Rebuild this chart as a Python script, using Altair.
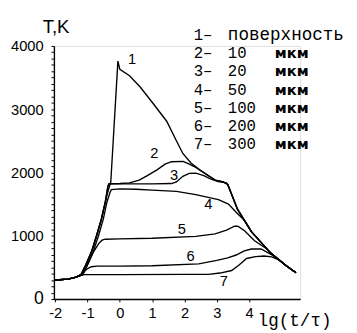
import altair as alt
import pandas as pd

# ---- curve data (lg(t/tau), T in K) ----
c1_x = [-2.0, -1.6, -1.35, -1.2, -1.05, -0.87, -0.72, -0.57, -0.45, -0.38, -0.28, -0.06, 0.0, 0.3, 0.63, 1.0, 1.45, 1.75, 1.95, 2.2, 2.5, 2.95, 3.2, 3.34, 3.64, 4.07, 4.67, 5.15, 5.45]
c1_y = [300, 315, 345, 385, 540, 755, 1000, 1265, 1530, 1680, 1850, 3760, 3630, 3530, 3350, 3110, 2810, 2500, 2300, 2150, 2030, 1880, 1850, 1810, 1420, 1065, 725, 525, 415]

c2_x = [-2.0, -1.6, -1.35, -1.2, -1.05, -0.87, -0.72, -0.57, -0.45, -0.37, -0.34, 0.0, 0.3, 0.6, 0.85, 1.15, 1.4, 1.6, 1.96, 2.15, 2.35, 2.95, 3.2, 3.34, 3.64, 4.07, 4.67, 5.15, 5.45]
c2_y = [300, 315, 345, 385, 540, 755, 1000, 1265, 1530, 1780, 1820, 1825, 1835, 1880, 1950, 2040, 2130, 2170, 2175, 2130, 2080, 1880, 1850, 1810, 1420, 1065, 725, 525, 415]

c3_x = [-2.0, -1.6, -1.35, -1.2, -1.05, -0.87, -0.72, -0.57, -0.45, -0.37, -0.34, 1.0, 1.6, 1.75, 1.95, 2.15, 2.35, 2.6, 2.8, 3.04, 3.3, 3.34, 3.64, 4.07, 4.67, 5.15, 5.45]
c3_y = [300, 315, 345, 385, 540, 755, 1000, 1265, 1530, 1780, 1820, 1820, 1825, 1850, 1940, 1985, 1990, 1950, 1900, 1855, 1835, 1810, 1420, 1065, 725, 525, 415]

c4_x = [-2.0, -1.6, -1.35, -1.15, -1.0, -0.82, -0.66, -0.51, -0.4, -0.3, -0.26, 0.0, 0.5, 1.0, 1.75, 2.35, 3.05, 3.36, 3.6, 3.86, 4.07, 4.67, 5.15, 5.45]
c4_y = [300, 315, 345, 385, 540, 755, 1000, 1265, 1530, 1690, 1730, 1740, 1735, 1720, 1700, 1650, 1570, 1500, 1370, 1240, 1065, 725, 525, 415]

c5_x = [-2.0, -1.6, -1.35, -1.15, -1.0, -0.82, -0.65, -0.55, -0.45, 0.0, 1.0, 2.35, 2.95, 3.3, 3.55, 3.65, 3.86, 4.16, 4.55, 4.67, 5.15, 5.45]
c5_y = [300, 315, 345, 385, 540, 740, 880, 930, 945, 950, 960, 990, 1030, 1090, 1150, 1150, 1080, 925, 790, 725, 525, 415]

c6_x = [-2.0, -1.6, -1.35, -1.2, -1.0, -0.88, -0.7, 0.0, 1.0, 2.44, 3.0, 3.34, 3.6, 3.85, 4.07, 4.37, 4.55, 4.76, 5.15, 5.45]
c6_y = [300, 315, 345, 385, 480, 510, 520, 520, 525, 555, 610, 650, 695, 760, 790, 790, 740, 680, 525, 415]

c7_x = [-2.0, -1.6, -1.4, -1.2, -1.11, -0.9, 0.0, 2.0, 2.74, 3.1, 3.46, 3.7, 3.92, 4.2, 4.46, 4.7, 4.92, 5.15, 5.45]
c7_y = [300, 315, 340, 375, 385, 385, 385, 388, 390, 410, 450, 540, 640, 670, 680, 665, 620, 525, 415]

# curve number labels placed on the plot
lbl_text = ["1", "2", "3", "4", "5", "6", "7"]
lbl_x = [0.38, 1.07, 1.68, 2.74, 1.92, 2.19, 3.22]
lbl_y = [3784, 2301, 1961, 1498, 1112, 680, 278]

# legend text
leg_num = ["1\u2013", "2\u2013", "3\u2013", "4\u2013", "5\u2013", "6\u2013", "7\u2013"]
leg_val = ["поверхность", "10", "20", "50", "100", "200", "300"]
leg_unit = ["", "мкм", "мкм", "мкм", "мкм", "мкм", "мкм"]

x_ticks = [-2, -1, 0, 1, 2, 3, 4]
y_ticks = list(range(0, 4001, 100))

# ---- build tables ----
curves = [(c1_x, c1_y), (c2_x, c2_y), (c3_x, c3_y), (c4_x, c4_y),
          (c5_x, c5_y), (c6_x, c6_y), (c7_x, c7_y)]
rows = []
for ci, (xs, ys) in enumerate(curves, start=1):
    for i, (xv, yv) in enumerate(zip(xs, ys)):
        rows.append({"curve": ci, "i": i, "x": xv, "y": yv})
df = pd.DataFrame(rows)
lbl_df = pd.DataFrame({"t": lbl_text, "x": lbl_x, "y": lbl_y})
leg_df = pd.DataFrame({"num": leg_num, "val": leg_val, "unit": leg_unit,
                       "row": list(range(len(leg_num)))})

W, H = 252, 259
XDOM = [-2.04, 5.58]
YDOM = [0, 4000]

xscale = alt.Scale(domain=XDOM, nice=False, zero=False)
yscale = alt.Scale(domain=YDOM, nice=False, zero=False)

x_axis = alt.Axis(values=x_ticks, labelExpr="'' + datum.value", grid=False,
                  tickSize=3, labelPadding=4, labelFontSize=15,
                  labelFont="Liberation Sans", labelColor="black",
                  domainColor="black", tickColor="black", domainWidth=1.4,
                  labelFlush=False, labelOverlap=False,
                  title="lg(t/τ)", titleFont="Liberation Mono", titleFontSize=18,
                  titleFontWeight="normal", titleColor="black",
                  titleX=208, titleY=27, titleAlign="left",
                  titleBaseline="alphabetic", titleAngle=0)
y_axis = alt.Axis(values=y_ticks,
                  labelExpr="datum.value % 1000 == 0 ? '' + datum.value : ''",
                  grid=False, tickSize=3, labelPadding=8,
                  labelFontSize={"condition": {"test": "datum.value == 0", "value": 18}, "value": 15},
                  labelFont="Liberation Sans", labelColor="black",
                  domainColor="black", tickColor="black", domainWidth=1.4,
                  labelFlush=False, labelOverlap=False,
                  title="T,K", titleFont="Liberation Sans", titleFontSize=19,
                  titleFontWeight="normal", titleColor="black",
                  titleX=-12, titleY=-14, titleAlign="left",
                  titleBaseline="alphabetic", titleAngle=0)

X = lambda f: alt.X(f, scale=xscale, axis=x_axis)
Y = lambda f: alt.Y(f, scale=yscale, axis=y_axis)

lines = alt.Chart(df).mark_line(color="black", strokeWidth=1.4).encode(
    x=X("x:Q"), y=Y("y:Q"), detail="curve:N", order="i:Q",
)

labels = alt.Chart(lbl_df).mark_text(font="Liberation Sans", fontSize=15,
                                      color="black").encode(
    x=X("x:Q"), y=Y("y:Q"), text="t:N",
)

# legend rows: pixel layout converted to data space of the shared y scale
LEG_TOP = -11.0   # px from top of plot
LEG_STEP = 18.6   # px per row
ycalc = f"{YDOM[1]} * (1 - ({LEG_TOP} + datum.row * {LEG_STEP}) / {H})"

leg_base = alt.Chart(leg_df).transform_calculate(ly=ycalc)
leg1 = leg_base.mark_text(font="Liberation Mono", fontSize=16, align="left",
                          baseline="middle", color="black").encode(
    x=alt.value(143), y=Y("ly:Q"), text="num:N")
leg2 = leg_base.transform_filter("datum.row > 0").mark_text(
    font="Liberation Mono", fontSize=16, align="left",
    baseline="middle", color="black").encode(
    x=alt.value(178), y=Y("ly:Q"), text="val:N")
leg2b = leg_base.transform_filter("datum.row == 0").mark_text(
    font="Liberation Mono", fontSize=18, align="left",
    baseline="middle", color="black").encode(
    x=alt.value(178), y=Y("ly:Q"), text="val:N")
leg3 = leg_base.mark_text(font="DejaVu Sans", fontSize=15, fontWeight="bold",
                          align="left", baseline="middle", color="black").encode(
    x=alt.value(226), y=Y("ly:Q"), text="unit:N")

chart = alt.layer(lines, labels, leg1, leg2, leg2b, leg3).properties(
    width=W, height=H,
    autosize=alt.AutoSizeParams(type="none"),
    padding={"left": 47, "top": 35, "right": 50, "bottom": 31},
).configure_view(stroke=None).configure(background="white")

chart.save("out.html", embed_options={"renderer": "svg", "actions": False})
